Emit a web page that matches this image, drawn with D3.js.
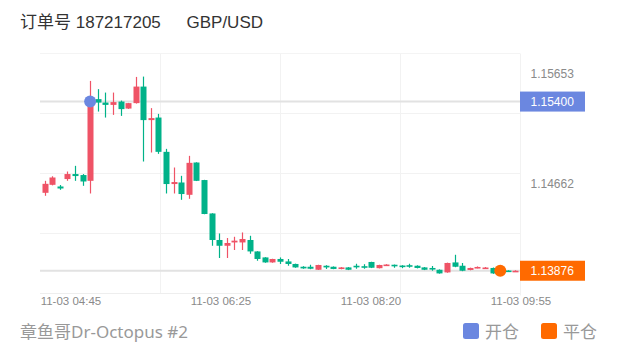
<!DOCTYPE html>
<html><head><meta charset="utf-8">
<script src="https://cdn.jsdelivr.net/npm/d3@7"></script>
<style>html,body{margin:0;padding:0;background:#fff;} svg{display:block;}</style>
</head><body><svg id="c" width="620" height="352"></svg>
<script>
const openP  = [1.14578,1.14650,1.14635,1.14702,1.14747,1.14738,1.14686,1.15422,1.15391,1.15370,1.15400,1.15337,1.15386,1.15535,1.15233,1.15256,1.14947,1.14657,1.14671,1.14560,1.14851,1.14693,1.14392,1.14153,1.14101,1.14131,1.14131,1.14153,1.14050,1.13996,1.13951,1.13982,1.13960,1.13937,1.13912,1.13912,1.13885,1.13921,1.13912,1.13892,1.13906,1.13921,1.13917,1.13955,1.13899,1.13923,1.13930,1.13923,1.13926,1.13921,1.13906,1.13901,1.13885,1.13861,1.13951,1.13921,1.13883,1.13902,1.13898,1.13901,1.13880,1.13878,1.13870];
const highP  = [1.14686,1.14727,1.14648,1.14770,1.14821,1.14747,1.15586,1.15512,1.15481,1.15481,1.15409,1.15388,1.15622,1.15625,1.15341,1.15289,1.14974,1.14806,1.14731,1.14911,1.14853,1.14695,1.14394,1.14212,1.14171,1.14182,1.14221,1.14191,1.14052,1.13998,1.13984,1.13996,1.13982,1.13940,1.13917,1.13930,1.13930,1.13926,1.13915,1.13909,1.13909,1.13939,1.13935,1.13957,1.13930,1.13935,1.13932,1.13926,1.13939,1.13925,1.13909,1.13919,1.13888,1.13949,1.14020,1.13946,1.13904,1.13915,1.13910,1.13905,1.13885,1.13880,1.13880];
const lowP   = [1.14551,1.14645,1.14605,1.14686,1.14686,1.14641,1.14572,1.15310,1.15256,1.15280,1.15271,1.15334,1.15382,1.14860,1.14941,1.14929,1.14572,1.14572,1.14515,1.14524,1.14684,1.14385,1.14101,1.13991,1.13991,1.14063,1.14063,1.14029,1.13966,1.13948,1.13948,1.13937,1.13921,1.13903,1.13894,1.13890,1.13883,1.13892,1.13890,1.13889,1.13882,1.13894,1.13894,1.13900,1.13897,1.13920,1.13903,1.13899,1.13903,1.13897,1.13882,1.13876,1.13850,1.13858,1.13908,1.13872,1.13880,1.13898,1.13895,1.13848,1.13862,1.13866,1.13867];
const closeP = [1.14659,1.14716,1.14617,1.14747,1.14729,1.14680,1.15400,1.15391,1.15370,1.15395,1.15332,1.15386,1.15535,1.15233,1.15251,1.14947,1.14657,1.14675,1.14567,1.14848,1.14686,1.14387,1.14153,1.14101,1.14126,1.14147,1.14162,1.14050,1.13982,1.13951,1.13982,1.13957,1.13937,1.13906,1.13897,1.13894,1.13928,1.13906,1.13892,1.13906,1.13885,1.13908,1.13903,1.13903,1.13928,1.13932,1.13919,1.13914,1.13915,1.13901,1.13885,1.13888,1.13852,1.13946,1.13912,1.13876,1.13901,1.13910,1.13905,1.13852,1.13870,1.13870,1.13876];

const xTickLabels = ["11-03 04:45","11-03 06:25","11-03 08:20","11-03 09:55"];
const xTickIndex  = [3.56, 23.25, 42.94, 62.63];
const yTickValues = [1.15653, 1.14662];
const yDomain = [1.13671, 1.15833];
const entryPrice = 1.15400, entryIndex = 6;
const exitPrice  = 1.13876, exitIndex = 60;
const titleText = "订单号 187217205";
const symbolText = "GBP/USD";
const strategyText = "章鱼哥Dr-Octopus #2";
const legendLabels = ["开仓","平仓"];

const UP = "#EF5366", DOWN = "#00B289", BLUE = "#6B87E0", ORANGE = "#FF6A00";
const L = 40, R = 520, T = 53.5, B = 293.5;

const svg = d3.select("#c");
const n = openP.length;
const x = d3.scaleBand().domain(d3.range(n)).range([L, R]).padding(0.2);
const xi = d3.scaleLinear().domain([-0.5, n - 0.5]).range([L, R]);
const y = d3.scaleLinear().domain(yDomain).range([B, T]);
const cx = i => x(i) + x.bandwidth() / 2;

// grid
const g = svg.append("g");
[1,2,3].forEach(k => {
  g.append("line").attr("x1", L).attr("x2", R).attr("y1", T + k*60).attr("y2", T + k*60)
    .attr("stroke", "#f2f2f2").attr("stroke-width", 1);
  g.append("line").attr("y1", T).attr("y2", B).attr("x1", L + k*120 + 0.5).attr("x2", L + k*120 + 0.5)
    .attr("stroke", "#f2f2f2").attr("stroke-width", 1);
});
g.append("line").attr("x1", L).attr("x2", R).attr("y1", T).attr("y2", T).attr("stroke", "#f4f4f4");
g.append("line").attr("x1", L).attr("x2", R).attr("y1", B).attr("y2", B).attr("stroke", "#eeeeee");
g.append("line").attr("x1", R + 0.5).attr("x2", R + 0.5).attr("y1", T).attr("y2", B + 2).attr("stroke", "#f2f2f2");

// price lines
[entryPrice, exitPrice].forEach(p => {
  svg.append("line").attr("x1", L).attr("x2", R).attr("y1", y(p)).attr("y2", y(p))
    .attr("stroke", "#e2e2e2").attr("stroke-width", 2);
});

// candles
const data = d3.range(n).map(i => ({i, o: openP[i], h: highP[i], l: lowP[i], c: closeP[i]}));
const cg = svg.append("g");
cg.selectAll("line.w").data(data).join("line")
  .attr("x1", d => Math.round(cx(d.i)) + 0.5).attr("x2", d => Math.round(cx(d.i)) + 0.5)
  .attr("y1", d => y(d.h)).attr("y2", d => y(d.l))
  .attr("stroke", d => d.c >= d.o ? UP : DOWN).attr("stroke-width", 1.2);
cg.selectAll("rect").data(data).join("rect")
  .attr("x", d => Math.round(cx(d.i)) + 0.5 - 3)
  .attr("width", 6)
  .attr("y", d => Math.min(y(d.o), y(d.c)))
  .attr("height", d => Math.max(1.6, Math.abs(y(d.o) - y(d.c))))
  .attr("fill", d => d.c >= d.o ? UP : DOWN);

// markers
svg.append("circle").attr("cx", cx(entryIndex)).attr("cy", y(entryPrice)).attr("r", 6).attr("fill", BLUE);
svg.append("circle").attr("cx", cx(exitIndex)).attr("cy", y(exitPrice)).attr("r", 6).attr("fill", ORANGE);

// y axis labels
const axisFont = "'Liberation Sans', Arial, sans-serif";
svg.selectAll("text.yt").data(yTickValues).join("text")
  .attr("x", 530.5).attr("y", d => y(d)).attr("dy", "0.35em")
  .attr("font-family", axisFont).attr("font-size", 12).attr("fill", "#8a8a8a")
  .text(d => d.toFixed(5));

// price tags
[[entryPrice, BLUE], [exitPrice, ORANGE]].forEach(([p, col]) => {
  svg.append("rect").attr("x", R).attr("y", y(p) - 10).attr("width", 65).attr("height", 20).attr("fill", col);
  svg.append("text").attr("x", 530.5).attr("y", y(p)).attr("dy", "0.35em")
    .attr("font-family", axisFont).attr("font-size", 12).attr("fill", "#fff").text(p.toFixed(5));
});

// x labels
svg.selectAll("text.xt").data(xTickLabels).join("text")
  .attr("x", (d, k) => xi(xTickIndex[k])).attr("y", 305)
  .attr("text-anchor", "middle")
  .attr("font-family", axisFont).attr("font-size", 11.5).attr("fill", "#8a8a8a")
  .text(d => d);

// title
const tf = "'Liberation Sans', 'Noto Sans CJK SC', sans-serif";
svg.append("text").attr("x", 20).attr("y", 27.5).attr("font-family", tf).attr("font-size", 17)
  .attr("fill", "#333").text(titleText);
svg.append("text").attr("x", 186.5).attr("y", 27.5).attr("font-family", tf).attr("font-size", 17)
  .attr("fill", "#333").text(symbolText);

// footer
svg.append("text").attr("x", 20).attr("y", 338).attr("font-family", "'Noto Sans', 'Noto Sans CJK SC', sans-serif")
  .attr("font-size", 17).attr("fill", "#999").text(strategyText);
const legX = [463, 541];
[BLUE, ORANGE].forEach((col, k) => {
  svg.append("rect").attr("x", legX[k]).attr("y", 323).attr("width", 16).attr("height", 16).attr("rx", 2.5).attr("fill", col);
  svg.append("text").attr("x", legX[k] + 22).attr("y", 338).attr("font-family", "'Noto Sans CJK SC', sans-serif")
    .attr("font-size", 17).attr("fill", "#999").text(legendLabels[k]);
});
</script></body></html>
